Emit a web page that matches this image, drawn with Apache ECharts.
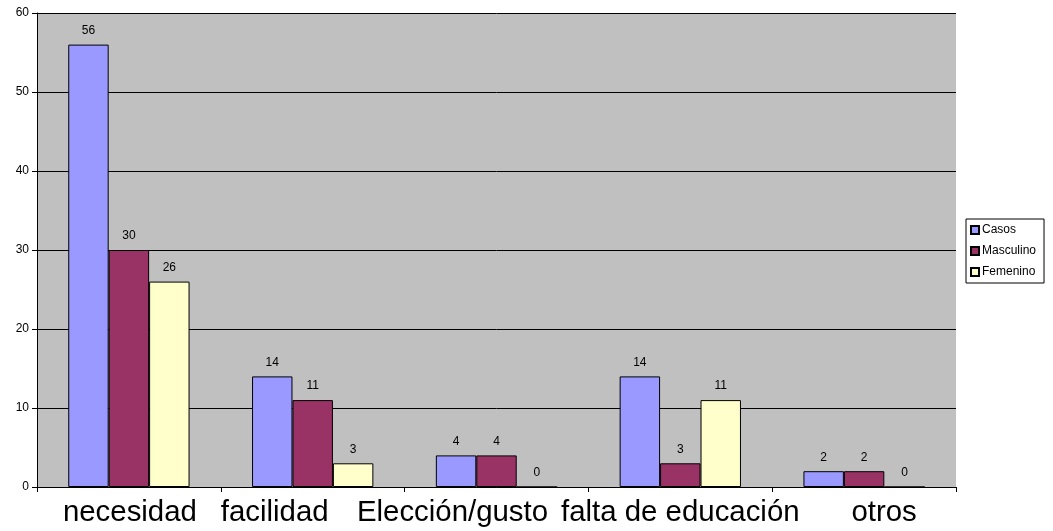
<!DOCTYPE html>
<html><head><meta charset="utf-8">
<script src="https://cdn.jsdelivr.net/npm/echarts@6/dist/echarts.min.js"></script>
<style>html,body{margin:0;padding:0;background:#fff}#c{width:1053px;height:531px}</style>
</head><body><div id="c"></div>
<script>
const categories = ['necesidad', 'facilidad', 'Elección/gusto', 'falta de educación', 'otros'];
const casos = [56, 14, 4, 14, 2];
const masculino = [30, 11, 4, 3, 2];
const femenino = [26, 3, 0, 11, 0];
const seriesNames = ['Casos', 'Masculino', 'Femenino'];
const colors = ['#9999FF', '#993366', '#FFFFCC'];
// horizontal shift of each category label (px), as placed in the reference
const labelShift = [1, -38, -44, 0, 20];
const font = 'Liberation Sans, Arial, sans-serif';
const chart = echarts.init(document.getElementById('c'));
const mk = (name, data, color) => ({
  name, type: 'bar', data,
  barGap: '0%', barCategoryGap: '34%',
  itemStyle: { color, borderColor: '#000', borderWidth: 1 },
  label: { show: true, position: 'top', distance: 8, color: '#000', fontSize: 12, fontFamily: font },
  emphasis: { disabled: true }
});
const catData = categories.map((c, i) => {
  const s = labelShift[i];
  return { value: c, textStyle: { padding: s >= 0 ? [0, 0, 0, 2 * s] : [0, -2 * s, 0, 0] } };
});
chart.setOption({
  animation: false,
  grid: { left: 37, right: 97, top: 13, bottom: 44, show: true, backgroundColor: '#C0C0C0', borderWidth: 0 },
  legend: {
    orient: 'vertical', left: 966, top: 219,
    backgroundColor: '#fff', borderColor: '#000', borderWidth: 1,
    padding: [5, 8, 5, 4], itemGap: 9, itemWidth: 8, itemHeight: 8, icon: 'rect',
    textStyle: { fontSize: 12, fontFamily: font, color: '#000', padding: [0, 0, 0, -2] },
    data: seriesNames
  },
  xAxis: {
    type: 'category', data: catData,
    axisLine: { lineStyle: { color: '#000', width: 1 } },
    axisTick: { show: true, length: 5, lineStyle: { color: '#000' } },
    axisLabel: { fontSize: 29.4, fontFamily: font, color: '#000', margin: 11, interval: 0, hideOverlap: false }
  },
  yAxis: {
    type: 'value', min: 0, max: 60, interval: 10,
    axisLine: { show: true, lineStyle: { color: '#000', width: 1 } },
    axisTick: { show: true, length: 5, lineStyle: { color: '#000' } },
    axisLabel: { fontSize: 12, fontFamily: font, color: '#000', margin: 8 },
    splitLine: { show: true, lineStyle: { color: '#000', width: 1 } }
  },
  series: [mk(seriesNames[0], casos, colors[0]), mk(seriesNames[1], masculino, colors[1]), mk(seriesNames[2], femenino, colors[2])]
});
</script></body></html>
